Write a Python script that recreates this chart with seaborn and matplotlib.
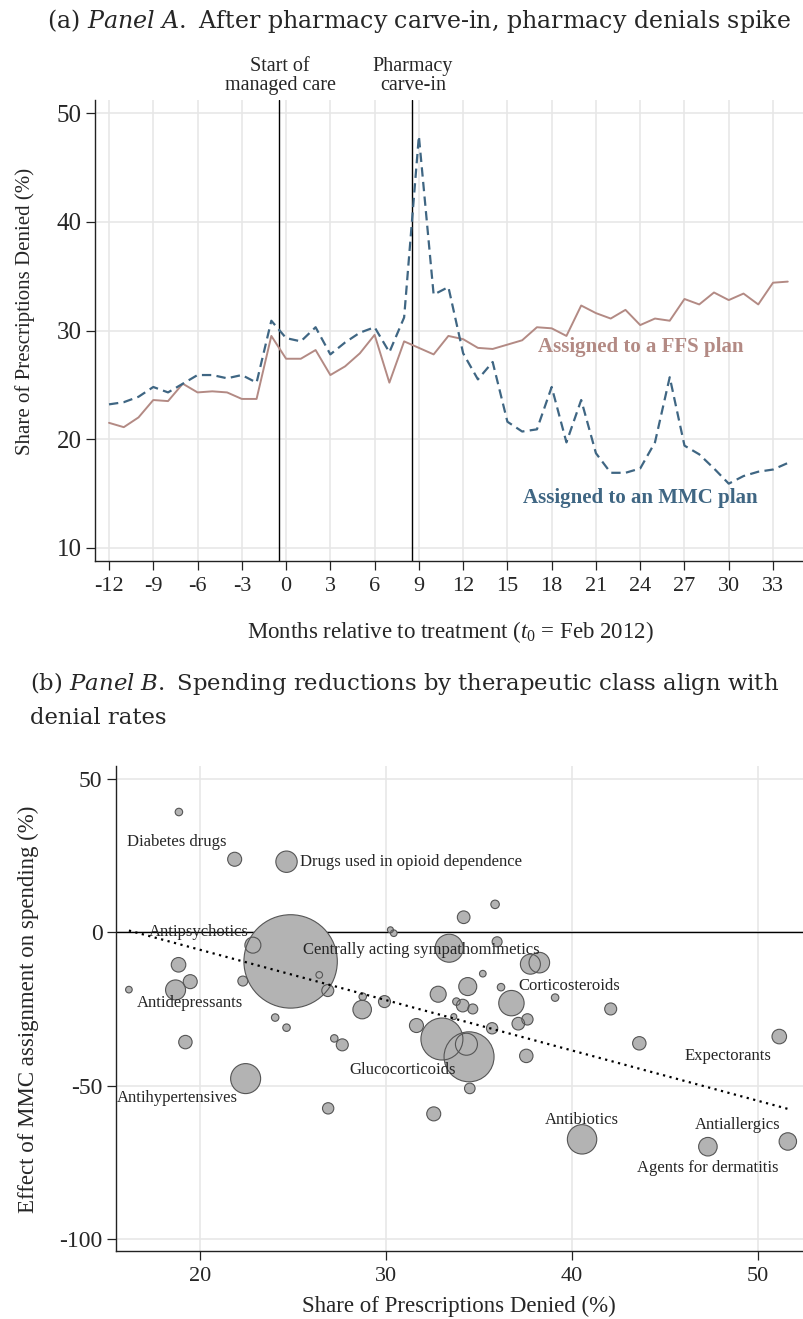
import numpy as np
import pandas as pd
import matplotlib.pyplot as plt
import matplotlib.transforms as mtransforms
import seaborn as sns

# Panel A: share of prescriptions denied by month (%)
months = list(range(-12, 35))
ffs_denied = [21.5, 21.1, 22.0, 23.6, 23.5, 25.1, 24.3, 24.4, 24.3, 23.7, 23.7, 29.5,
              27.4, 27.4, 28.2, 25.9, 26.7, 27.9, 29.6, 25.2, 29.0, 28.4, 27.8, 29.5,
              29.2, 28.4, 28.3, 28.7, 29.1, 30.3, 30.2, 29.5, 32.3, 31.6, 31.1, 31.9,
              30.5, 31.1, 30.9, 32.9, 32.4, 33.5, 32.8, 33.4, 32.4, 34.4, 34.5]
mmc_denied = [23.2, 23.4, 23.9, 24.8, 24.3, 25.1, 25.9, 25.9, 25.6, 25.9, 25.2, 30.9,
              29.3, 29.0, 30.3, 27.8, 28.9, 29.8, 30.3, 28.0, 31.2, 47.9, 33.3, 34.0,
              27.9, 25.5, 27.1, 21.6, 20.7, 20.9, 24.8, 19.7, 23.6, 18.7, 16.9, 16.9,
              17.3, 19.7, 25.7, 19.4, 18.6, 17.3, 15.9, 16.6, 17.0, 17.2, 17.8]
event_months = [-0.5, 8.5]
event_labels = ["Start of\nmanaged care", "Pharmacy\ncarve-in"]

# Panel B: therapeutic classes (denial share %, effect on spending %, bubble weight)
class_denied = [18.87, 21.87, 24.66, 24.88, 18.85, 19.48, 18.69, 16.18, 22.31, 26.42,
                26.88, 24.05, 24.66, 19.22, 22.46, 26.90, 22.85, 27.23, 27.66, 28.73,
                28.76, 29.93, 30.25, 30.43, 31.65, 33.02, 34.34, 34.48, 34.52, 32.82,
                33.41, 34.19, 35.88, 35.99, 34.41, 35.22, 33.80, 34.14, 34.68, 33.66,
                35.72, 36.76, 36.20, 37.78, 38.26, 37.62, 37.13, 37.56, 39.11, 32.58,
                42.10, 43.64, 51.17, 40.56, 47.33, 51.63]
class_effect = [39.2, 23.8, 23.0, -9.5, -10.6, -16.1, -18.8, -18.7, -15.9, -13.9,
                -19.0, -27.8, -31.1, -35.8, -47.7, -57.4, -4.2, -34.6, -36.7, -25.2,
                -21.0, -22.6, 0.8, -0.3, -30.4, -34.8, -36.5, -40.6, -50.9, -20.2,
                -5.2, 4.9, 9.1, -3.1, -17.7, -13.5, -22.6, -23.9, -25.0, -27.5,
                -31.3, -23.1, -17.9, -10.4, -9.9, -28.4, -29.8, -40.3, -21.3, -59.2,
                -25.0, -36.2, -34.0, -67.5, -69.9, -68.2]
class_weight = [14, 49, 114, 2181, 53, 49, 100, 11, 25, 11,
                36, 14, 14, 45, 225, 32, 64, 14, 36, 86,
                14, 36, 9, 11, 49, 441, 121, 625, 28, 64,
                196, 40, 18, 25, 81, 11, 14, 40, 25, 9,
                32, 161, 14, 100, 106, 32, 40, 45, 14, 49,
                36, 45, 53, 216, 86, 76]
fit_slope, fit_intercept = -1.64, 27.1

FFS_COLOR = "#B38A84"
MMC_COLOR = "#3F6683"
FILL = "#B3B3B3"
EDGE = "#555555"
GRID = "#E6E6E6"

sns.set_theme(style="ticks")
plt.rcParams["font.family"] = ["Liberation Serif", "DejaVu Serif"]
plt.rcParams["mathtext.fontset"] = "custom"
plt.rcParams["mathtext.rm"] = "Liberation Serif"
plt.rcParams["mathtext.it"] = "Liberation Serif:italic"
plt.rcParams["axes.unicode_minus"] = False

fig = plt.figure(figsize=(8.04, 13.19), dpi=100)
H = 1319.0
W = 804.0
ax_a = fig.add_axes([95 / W, 1 - 561 / H, 709 / W, 461 / H])
ax_b = fig.add_axes([115.7 / W, 1 - 1251 / H, 688.3 / W, 485 / H])


def style_axes(ax):
    ax.grid(True, color=GRID, linewidth=1.1, zorder=0)
    ax.set_axisbelow(True)
    sns.despine(ax=ax)
    for side in ["left", "bottom"]:
        ax.spines[side].set_color("#222222")
        ax.spines[side].set_linewidth(1.0)
    ax.tick_params(direction="out", length=6.5, width=0.9, color="#222222")
    ax.set_xlabel("")
    ax.set_ylabel("")


# ---- Panel A ----
df_a = pd.DataFrame({
    "month": months * 2,
    "share": ffs_denied + mmc_denied,
    "plan": ["FFS"] * len(months) + ["MMC"] * len(months),
})
sns.lineplot(data=df_a, x="month", y="share", hue="plan", style="plan",
             palette={"FFS": FFS_COLOR, "MMC": MMC_COLOR},
             dashes={"FFS": "", "MMC": (4.2, 2.4)},
             linewidth=1.4, legend=False, ax=ax_a, zorder=3)
for ln in ax_a.get_lines():
    if ln.get_linestyle() != "-":
        ln.set_linewidth(1.6)
for m in event_months:
    ax_a.axvline(m, color="black", linewidth=1.0, zorder=2)
trans = mtransforms.blended_transform_factory(ax_a.transData, ax_a.transAxes)
for m, lab in zip(event_months, event_labels):
    ax_a.text(m + 0.1, 1.011, lab, transform=trans, ha="center", va="bottom",
              fontsize=14.5, linespacing=1.0)
ax_a.text(17.06, 28.5, "Assigned to a FFS plan", color=FFS_COLOR,
          fontsize=15, fontweight="bold", va="center", ha="left")
ax_a.text(16.08, 14.55, "Assigned to an MMC plan", color=MMC_COLOR,
          fontsize=15, fontweight="bold", va="center", ha="left")
ax_a.set_xlim(-12.95, 35.1)
ax_a.set_ylim(8.78, 51.22)
ax_a.set_xticks(range(-12, 34, 3))
ax_a.set_yticks([10, 20, 30, 40, 50])
style_axes(ax_a)
ax_a.tick_params(axis="x", labelsize=16, pad=5)
ax_a.tick_params(axis="y", labelsize=18, pad=3)

# ---- Panel B ----
df_b = pd.DataFrame({"denied": class_denied, "effect": class_effect, "weight": class_weight})
K = 2.0736  # px radius^2 -> pt^2 area
w_lo, w_hi = df_b["weight"].min(), df_b["weight"].max()
ax_b.axhline(0, color="black", linewidth=1.0, zorder=2)
sns.scatterplot(data=df_b, x="denied", y="effect", size="weight",
                sizes=(w_lo * K, w_hi * K), size_norm=(w_lo, w_hi),
                color=FILL, edgecolor="none", linewidth=0, legend=False,
                ax=ax_b, zorder=3)
ax_b.scatter(df_b["denied"], df_b["effect"], s=df_b["weight"] * K,
             facecolors="none", edgecolors=EDGE, linewidths=0.8, zorder=4)
xs = np.array([df_b["denied"].min(), df_b["denied"].max()])
ax_b.plot(xs, fit_intercept + fit_slope * xs, color="black", linewidth=1.6,
          linestyle=(0, (1.0, 2.0)), zorder=5)

labels = [
    ("Diabetes drugs", 16.06, 29.5),
    ("Drugs used in opioid dependence", 25.38, 23.0),
    ("Antipsychotics", 17.26, 0.2),
    ("Centrally acting sympathomimetics", 25.56, -5.8),
    ("Antidepressants", 16.6, -23.1),
    ("Corticosteroids", 37.12, -17.6),
    ("Glucocorticoids", 28.05, -44.9),
    ("Antihypertensives", 15.52, -54.1),
    ("Expectorants", 46.06, -40.3),
    ("Antibiotics", 38.55, -61.2),
    ("Antiallergics", 46.61, -62.9),
    ("Agents for dermatitis", 43.52, -76.9),
]
for name, lx, ly in labels:
    ax_b.text(lx, ly, name, fontsize=12, ha="left", va="center", zorder=6)

ax_b.set_xlim(15.47, 52.5)
ax_b.set_ylim(-103.9, 54.2)
ax_b.set_xticks([20, 30, 40, 50])
ax_b.set_yticks([-100, -50, 0, 50])
style_axes(ax_b)
ax_b.tick_params(axis="x", labelsize=16, pad=5)
ax_b.tick_params(axis="y", labelsize=17, pad=3)

# ---- titles and axis labels ----
title_kw = dict(va="baseline", family="DejaVu Serif", math_fontfamily="dejavuserif")
fig.text(419.5 / W, 1 - 28 / H,
         r"(a) $\mathit{Panel\ A.}$ After pharmacy carve-in, pharmacy denials spike",
         ha="center", fontsize=17.1, **title_kw)
fig.text(30 / W, 1 - 690 / H,
         r"(b) $\mathit{Panel\ B.}$ Spending reductions by therapeutic class align with",
         ha="left", fontsize=16.4, **title_kw)
fig.text(30 / W, 1 - 723.5 / H, "denial rates", ha="left", fontsize=16.4, **title_kw)

fig.text(25 / W, 1 - 311 / H, "Share of Prescriptions Denied (%)",
         rotation=90, ha="center", va="center", fontsize=15)
fig.text(450 / W, 1 - 632 / H, r"Months relative to treatment ($\mathit{t_0}$ = Feb 2012)",
         ha="center", va="center", fontsize=16.5)
fig.text(28 / W, 1 - 1009 / H, "Effect of MMC assignment on spending (%)",
         rotation=90, ha="center", va="center", fontsize=16.5)
fig.text(459 / W, 1 - 1306.7 / H, "Share of Prescriptions Denied (%)",
         ha="center", va="center", fontsize=16.5)

fig.savefig("out.png", dpi=100)
